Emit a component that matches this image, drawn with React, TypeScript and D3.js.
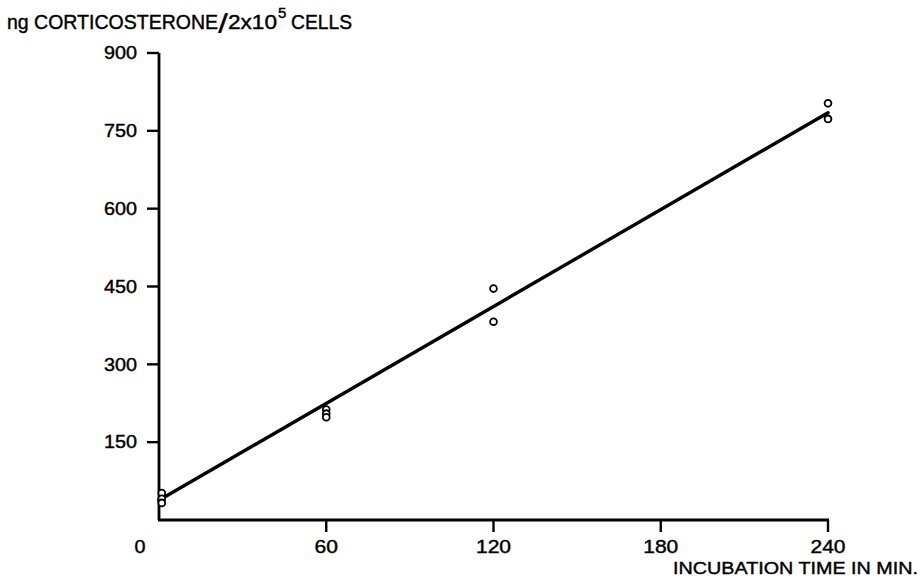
import React from "react";
import * as d3 from "d3";

// Incubation time (min) and corticosterone produced (ng / 2x10^5 cells)
const sampleTimes = [1, 1, 1, 60, 60, 60, 120, 120, 240, 240];
const corticosterone = [52, 41, 33, 213, 205, 198, 446, 382, 803, 773];

// Fitted regression line end points
const fitTimes = [0, 240];
const fitValues = [38, 785];

// Axis ticks
const xTicks = [0, 60, 120, 180, 240];
const yTicks = [150, 300, 450, 600, 750, 900];

const W = 924;
const H = 581;
const FONT = "'Liberation Sans', Arial, Helvetica, sans-serif";

// medium-weight lettering
const ink = { fill: "#000", stroke: "#000", strokeWidth: 0.4 };

export default function App() {
  const x = d3.scaleLinear().domain([0, 240]).range([159, 828]);
  const y = d3.scaleLinear().domain([0, 900]).range([520, 53]);

  const points = sampleTimes.map((t, i) => ({ t, v: corticosterone[i] }));
  const fit = fitTimes.map((t, i) => ({ t, v: fitValues[i] }));
  const linePath = d3
    .line<{ t: number; v: number }>()
    .x((d) => x(d.t))
    .y((d) => y(d.v))(fit) as string;

  const tickLen = 12;

  return (
    <svg
      width={W}
      height={H}
      style={{ position: "absolute", left: 0, top: 0, background: "#fff" }}
      fontFamily={FONT}
    >
      {/* Y axis title */}
      <g {...ink}>
        <text x={7} y={29} fontSize={19.5} textLength={211} lengthAdjust="spacingAndGlyphs">
          ng CORTICOSTERONE
        </text>
        <text x={218} y={33} fontSize={27} strokeWidth={0.2} textLength={10} lengthAdjust="spacingAndGlyphs">
          /
        </text>
        <text x={228} y={29} fontSize={19.5} textLength={49} lengthAdjust="spacingAndGlyphs">
          2x10
        </text>
        <text x={278} y={18} fontSize={15}>
          5
        </text>
        <text x={291} y={29} fontSize={19.5} textLength={61} lengthAdjust="spacingAndGlyphs">
          CELLS
        </text>
      </g>

      {/* Y axis */}
      <line x1={x(0)} x2={x(0)} y1={y(900)} y2={y(0)} stroke="#000" strokeWidth={2.8} />
      {yTicks.map((v) => (
        <g key={"y" + v}>
          <line
            x1={x(0) - tickLen}
            x2={x(0)}
            y1={y(v)}
            y2={y(v)}
            stroke="#000"
            strokeWidth={2.4}
          />
          <text
            {...ink}
            x={x(0) - 22}
            y={y(v)}
            dy="0.36em"
            textAnchor="end"
            fontSize={17.5}
            textLength={33}
            lengthAdjust="spacingAndGlyphs"
          >
            {v}
          </text>
        </g>
      ))}

      {/* X axis */}
      <line x1={x(0) - 1} x2={x(240) + 1} y1={y(0)} y2={y(0)} stroke="#000" strokeWidth={2.8} />
      {xTicks
        .filter((t) => t > 0)
        .map((t) => (
          <line
            key={"xt" + t}
            x1={x(t)}
            x2={x(t)}
            y1={y(0)}
            y2={y(0) + tickLen}
            stroke="#000"
            strokeWidth={2.4}
          />
        ))}
      {xTicks.map((t) => (
        <text
          key={"xl" + t}
          {...ink}
          x={t === 0 ? x(t) - 19 : x(t)}
          y={553}
          textAnchor="middle"
          fontSize={17.5}
          textLength={t === 0 ? 11 : String(t).length * 11.7}
          lengthAdjust="spacingAndGlyphs"
        >
          {t}
        </text>
      ))}
      <text
        {...ink}
        x={673}
        y={574}
        fontSize={16.5}
        textLength={245}
        lengthAdjust="spacingAndGlyphs"
      >
        INCUBATION TIME IN MIN.
      </text>

      {/* Regression line */}
      <path d={linePath} fill="none" stroke="#000" strokeWidth={3.4} strokeLinecap="round" />

      {/* Measured values */}
      {points.map((p, i) => (
        <circle
          key={"p" + i}
          cx={x(p.t)}
          cy={y(p.v)}
          r={3.4}
          fill="#fff"
          stroke="#000"
          strokeWidth={1.8}
        />
      ))}
    </svg>
  );
}
